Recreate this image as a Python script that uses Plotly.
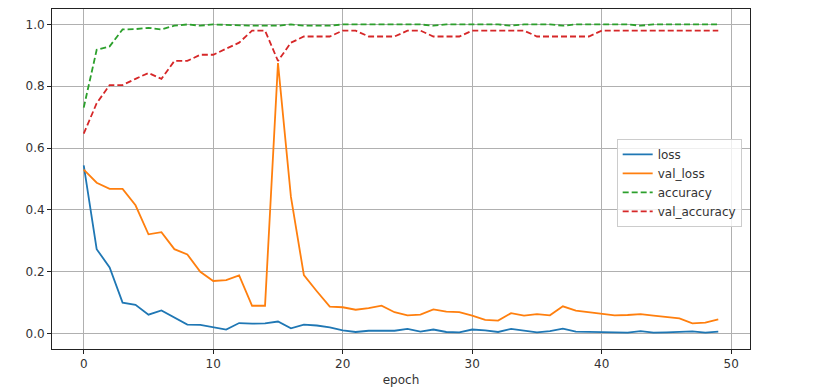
import plotly.graph_objects as go

epochs = list(range(50))

loss = [0.544, 0.273, 0.214, 0.100, 0.093, 0.061, 0.075, 0.052, 0.029, 0.028,
        0.020, 0.013, 0.034, 0.032, 0.033, 0.039, 0.017, 0.029, 0.026, 0.020,
        0.010, 0.005, 0.009, 0.010, 0.009, 0.015, 0.006, 0.013, 0.005, 0.004,
        0.013, 0.010, 0.005, 0.015, 0.010, 0.004, 0.008, 0.016, 0.006, 0.005,
        0.005, 0.004, 0.003, 0.008, 0.003, 0.004, 0.005, 0.007, 0.003, 0.006]

val_loss = [0.530, 0.488, 0.468, 0.468, 0.415, 0.321, 0.328, 0.273, 0.256, 0.200,
            0.170, 0.173, 0.188, 0.090, 0.090, 0.875, 0.442, 0.189, 0.137, 0.087,
            0.085, 0.077, 0.082, 0.090, 0.069, 0.059, 0.061, 0.078, 0.071, 0.069,
            0.058, 0.044, 0.042, 0.066, 0.058, 0.063, 0.059, 0.088, 0.074, 0.069,
            0.062, 0.059, 0.060, 0.063, 0.058, 0.054, 0.049, 0.033, 0.035, 0.046]

accuracy = [0.731, 0.918, 0.929, 0.984, 0.985, 0.989, 0.984, 0.996, 1.000, 0.996,
            1.000, 0.998, 0.996, 0.996, 0.996, 0.996, 1.000, 0.996, 0.996, 0.996,
            1.000, 1.000, 1.000, 1.000, 1.000, 1.000, 1.000, 0.996, 1.000, 1.000,
            1.000, 1.000, 1.000, 0.996, 1.000, 1.000, 1.000, 0.996, 1.000, 1.000,
            1.000, 1.000, 1.000, 0.996, 1.000, 1.000, 1.000, 1.000, 1.000, 1.000]

val_accuracy = [0.647, 0.745, 0.804, 0.804, 0.824, 0.843, 0.824, 0.882, 0.882, 0.902,
                0.902, 0.922, 0.941, 0.980, 0.980, 0.882, 0.941, 0.961, 0.961, 0.961,
                0.980, 0.980, 0.961, 0.961, 0.961, 0.980, 0.980, 0.961, 0.961, 0.961,
                0.980, 0.980, 0.980, 0.980, 0.980, 0.961, 0.961, 0.961, 0.961, 0.961,
                0.980, 0.980, 0.980, 0.980, 0.980, 0.980, 0.980, 0.980, 0.980, 0.980]

y_ticks = [0.0, 0.2, 0.4, 0.6, 0.8, 1.0]
x_ticks = [0, 10, 20, 30, 40, 50]

series = [
    ("loss", loss, "#1f77b4", "solid"),
    ("val_loss", val_loss, "#ff7f0e", "solid"),
    ("accuracy", accuracy, "#2ca02c", "6px,3px"),
    ("val_accuracy", val_accuracy, "#d62728", "6px,3px"),
]

fig = go.Figure()
for name, vals, color, dash in series:
    fig.add_trace(go.Scatter(x=epochs, y=vals, mode="lines", name=name,
                             line=dict(color=color, width=1.8, dash=dash)))

FONT = "DejaVu Sans"
axis_common = dict(showline=True, linecolor="#222", linewidth=1, mirror=True,
                   showgrid=True, gridcolor="#b0b0b0", gridwidth=0.8,
                   ticks="outside", ticklen=4, tickcolor="#222",
                   tickfont=dict(family=FONT, size=12, color="#333"),
                   zeroline=False, automargin=False)

fig.update_xaxes(range=[-2.45, 51.45], tickvals=x_ticks,
                 title=dict(text="epoch", font=dict(family=FONT, size=12, color="#333"),
                            standoff=5),
                 **axis_common)
fig.update_yaxes(range=[-0.05, 1.05], tickvals=y_ticks, tickformat=".1f", **axis_common)

# page body has an 8px margin, so the figure is sized/offset to compensate
fig.update_layout(
    width=825, height=383,
    margin=dict(l=44, r=83, t=1, b=42),
    plot_bgcolor="white", paper_bgcolor="white",
    font=dict(family=FONT, size=12, color="#333"),
    legend=dict(x=0.809, y=0.618, xanchor="left", yanchor="top",
                bgcolor="rgba(255,255,255,0.8)", bordercolor="#cccccc", borderwidth=1,
                font=dict(family=FONT, size=12, color="#333"),
                itemwidth=30),
    showlegend=True,
)

fig.write_html("out.html")
